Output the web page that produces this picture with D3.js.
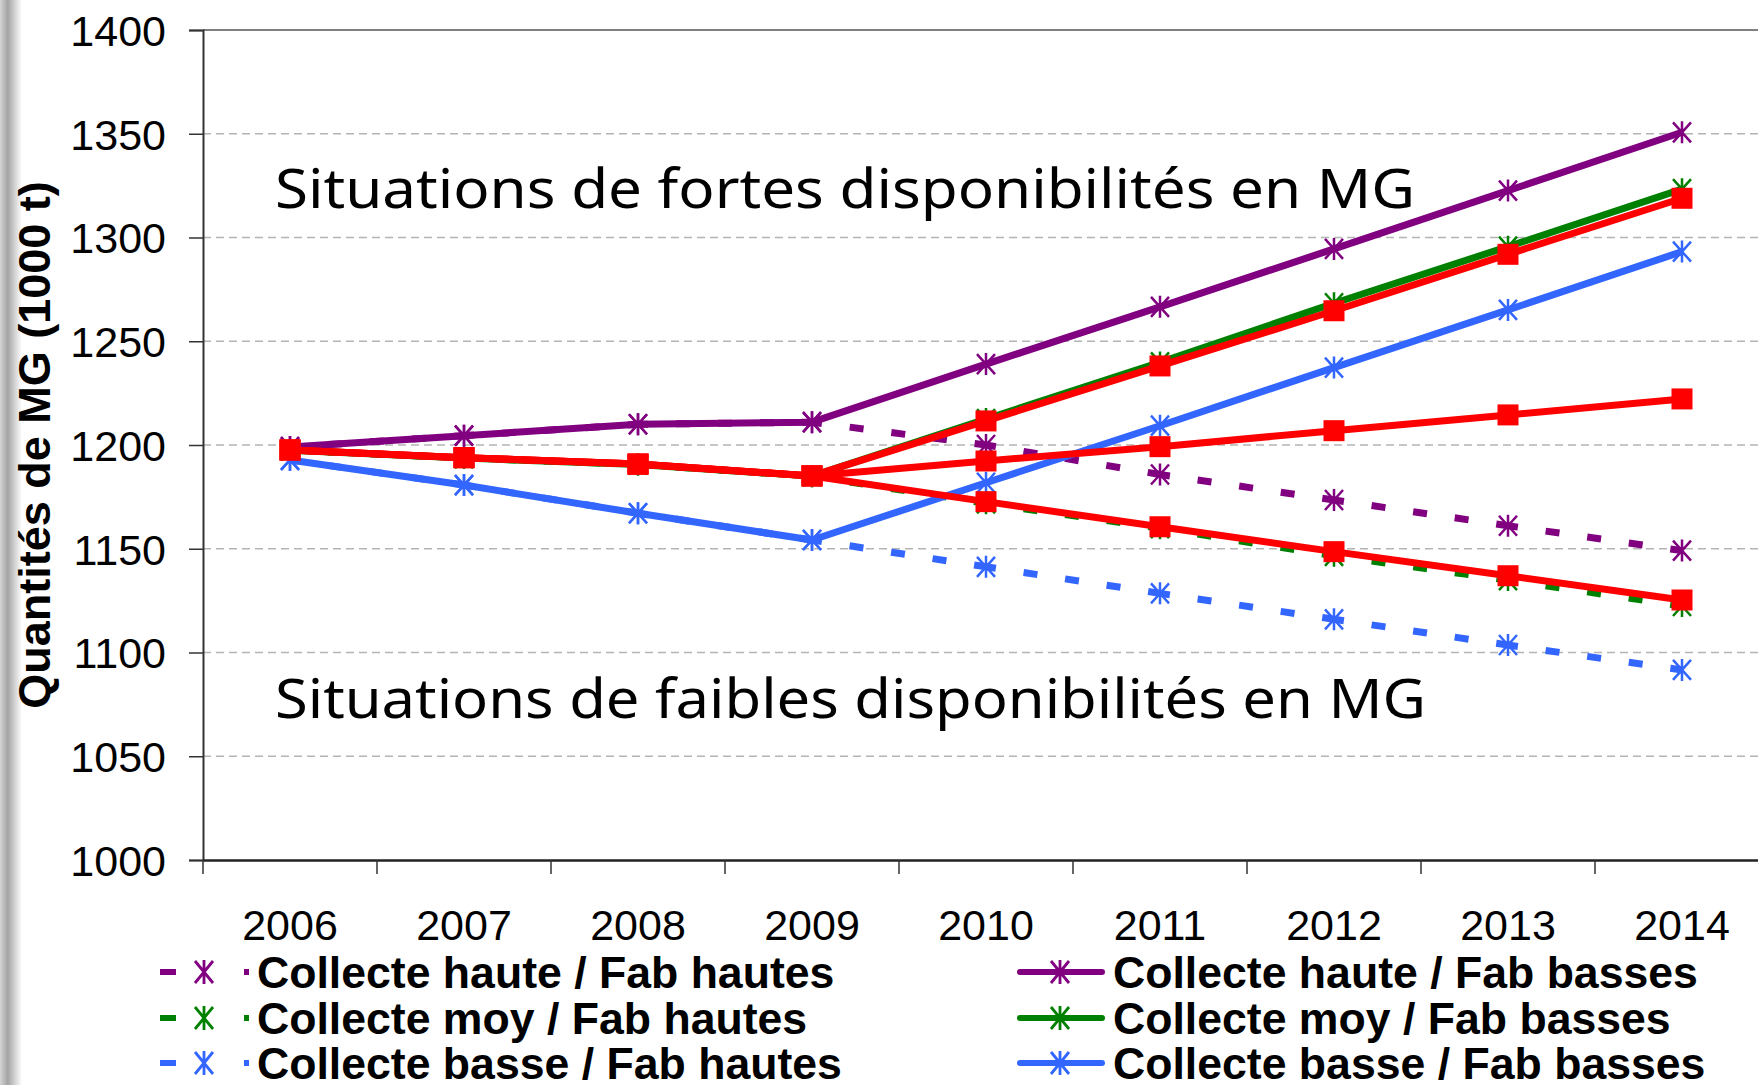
<!DOCTYPE html>
<html><head><meta charset="utf-8">
<script src="https://cdn.jsdelivr.net/npm/d3@7"></script>
<style>
html,body{margin:0;padding:0;background:#fff;overflow:hidden;}
svg{display:block;}
</style></head>
<body>
<script>
// ---- data ----
const years = [2006, 2007, 2008, 2009, 2010, 2011, 2012, 2013, 2014];
const yTicks = [1000, 1050, 1100, 1150, 1200, 1250, 1300, 1350, 1400];
const hauteHautes = [1199, 1204.5, 1210, 1211, 1200, 1185.8, 1173.5, 1161.1, 1149.1];
const moyHautes   = [1197.5, 1193.7, 1190.6, 1185, 1171.9, 1159.9, 1146.6, 1134.9, 1122.4];
const basseHautes = [1192.8, 1180.7, 1167.1, 1154.2, 1141.3, 1128.5, 1116, 1103.6, 1091.6];
const hauteBasses = [1199, 1204.5, 1210, 1211, 1239, 1266.6, 1294.5, 1322.6, 1350.7];
const moyBasses   = [1197.5, 1193.7, 1190.6, 1185, 1212.5, 1239.8, 1268.3, 1295.6, 1323.3];
const basseBasses = [1192.8, 1180.7, 1167.1, 1154.2, 1181.8, 1209.3, 1237.3, 1265.1, 1293.2];
const redHigh = [1197.6, 1193.9, 1190.8, 1185.1, 1211.6, 1238.1, 1264.7, 1291.9, 1318.9];
const redMid  = [1197.6, 1193.9, 1190.8, 1185.1, 1192.3, 1199.2, 1206.9, 1214.5, 1222.2];
const redLow  = [1197.6, 1193.9, 1190.8, 1185.1, 1172.7, 1160.6, 1148.6, 1137.0, 1125.3];
const legendLabels = ["Collecte haute / Fab hautes", "Collecte moy / Fab hautes", "Collecte basse / Fab hautes",
                      "Collecte haute / Fab basses", "Collecte moy / Fab basses", "Collecte basse / Fab basses"];
const yTitle = "Quantités de MG (1000 t)";
const noteHigh = "Situations de fortes disponibilités en MG";
const noteLow = "Situations de faibles disponibilités en MG";

const PURPLE = "#800080", GREEN = "#008000", BLUE = "#3366FF", RED = "#FF0000";

const series = [
  {label: legendLabels[0], values: hauteHautes, color: PURPLE, dashed: true},
  {label: legendLabels[1], values: moyHautes, color: GREEN, dashed: true},
  {label: legendLabels[2], values: basseHautes, color: BLUE, dashed: true},
  {label: legendLabels[3], values: hauteBasses, color: PURPLE, dashed: false},
  {label: legendLabels[4], values: moyBasses, color: GREEN, dashed: false},
  {label: legendLabels[5], values: basseBasses, color: BLUE, dashed: false}
];
const redSeries = [redHigh, redMid, redLow];

// ---- layout ----
const W = 1758, H = 1085;
const L = 203, T = 30, B = 860, R = 203 + 9 * 174;
const FONT = "'Liberation Sans', Arial, sans-serif";

const svg = d3.select("body").append("svg").attr("width", W).attr("height", H);

// left shadow
const defs = svg.append("defs");
const grad = defs.append("linearGradient").attr("id", "shade");
grad.append("stop").attr("offset", "0%").attr("stop-color", "#d4d4d4");
grad.append("stop").attr("offset", "35%").attr("stop-color", "#a4a4a4");
grad.append("stop").attr("offset", "60%").attr("stop-color", "#c8c8c8");
grad.append("stop").attr("offset", "100%").attr("stop-color", "#ffffff");
svg.append("rect").attr("x", 0).attr("y", 0).attr("width", 22).attr("height", H).attr("fill", "url(#shade)");

const x = d3.scaleBand().domain(years).range([L, R]).padding(0);
const cx = d => x(d) + x.bandwidth() / 2;
const y = d3.scaleLinear().domain([1000, 1400]).range([B, T]);

// grid
svg.append("g").selectAll("line").data(yTicks.filter(v => v > 1000 && v < 1400)).join("line")
  .attr("x1", L).attr("x2", W).attr("y1", d => y(d)).attr("y2", d => y(d))
  .attr("stroke", "#b4b4b4").attr("stroke-width", 1.5).attr("stroke-dasharray", "8,5");
// top border
svg.append("line").attr("x1", L).attr("x2", W).attr("y1", y(1400)).attr("y2", y(1400))
  .attr("stroke", "#808080").attr("stroke-width", 2);

// y axis
const yAxis = svg.append("g").attr("transform", `translate(${L},0)`)
  .call(d3.axisLeft(y).tickValues(yTicks).tickSize(14).tickPadding(23).tickFormat(d3.format("d")));
yAxis.select(".domain").attr("stroke", "#333").attr("stroke-width", 2);
yAxis.selectAll(".tick line").attr("stroke", "#333").attr("stroke-width", 1.5);
yAxis.selectAll("text").attr("font-family", FONT).attr("font-size", 43).attr("fill", "#000").attr("dy", "0.36em");

// x axis
const xAxis = svg.append("g").attr("transform", `translate(0,${B})`)
  .call(d3.axisBottom(x).tickSize(0).tickPadding(0));
xAxis.select(".domain").attr("stroke", "#222").attr("stroke-width", 2.5);
xAxis.selectAll("text").attr("font-family", FONT).attr("font-size", 43).attr("fill", "#000")
  .attr("y", 80).attr("dy", 0);
svg.append("g").selectAll("line").data(years.concat(["end"])).join("line")
  .attr("x1", d => d === "end" ? R : x(d)).attr("x2", d => d === "end" ? R : x(d))
  .attr("y1", B).attr("y2", B + 14).attr("stroke", "#333").attr("stroke-width", 1.5);

// y title
svg.append("text").attr("transform", `translate(50,${(T + B) / 2}) rotate(-90)`)
  .attr("text-anchor", "middle").attr("font-family", FONT).attr("font-weight", "bold")
  .attr("font-size", 45).text(yTitle);

// annotations
svg.append("text").attr("x", 275).attr("y", 208).attr("font-family", "'Comic Sans MS', 'Noto Sans', sans-serif")
  .attr("font-size", 54).attr("textLength", 1140).attr("lengthAdjust", "spacingAndGlyphs").text(noteHigh);
svg.append("text").attr("x", 275).attr("y", 718).attr("font-family", "'Comic Sans MS', 'Noto Sans', sans-serif")
  .attr("font-size", 54).attr("textLength", 1151).attr("lengthAdjust", "spacingAndGlyphs").text(noteLow);

// markers
const starPath = "M0,-11V11M-9,-10L9,10M-9,10L9,-10";
const line = d3.line().x(d => cx(d.year)).y(d => y(d.v));
const pts = vals => years.map((yr, i) => ({year: yr, v: vals[i]}));

const gLines = svg.append("g");
function drawSeries(s) {
  const p = pts(s.values);
  const g = gLines.append("g");
  if (s.dashed) {
    for (let i = 0; i < p.length - 1; i++) {
      g.append("path").attr("d", line([p[i], p[i + 1]])).attr("fill", "none")
        .attr("stroke", s.color).attr("stroke-width", 7)
        .attr("stroke-dasharray", "14,28").attr("stroke-dashoffset", 4);
    }
  } else {
    g.append("path").attr("d", line(p)).attr("fill", "none")
      .attr("stroke", s.color).attr("stroke-width", 7).attr("stroke-linejoin", "round");
  }
  g.selectAll(".m").data(p).join("path").attr("class", "m")
    .attr("transform", d => `translate(${cx(d.year)},${y(d.v)})`)
    .attr("d", starPath).attr("fill", "none").attr("stroke", s.color).attr("stroke-width", 2.5);
}
series.forEach(drawSeries);

redSeries.forEach(vals => {
  const p = pts(vals);
  const g = gLines.append("g");
  g.append("path").attr("d", line(p)).attr("fill", "none")
    .attr("stroke", RED).attr("stroke-width", 7).attr("stroke-linejoin", "round");
  g.selectAll("rect").data(p).join("rect")
    .attr("x", d => cx(d.year) - 10.5).attr("y", d => y(d.v) - 10.5)
    .attr("width", 21).attr("height", 21).attr("fill", RED);
});

// legend
const legRows = [988, 1034, 1079];
const leg = svg.append("g");
const legStar = "M0,-12V12M-9,-11L9,11M-9,11L9,-11";
series.forEach((s, i) => {
  const row = legRows[i % 3];
  const cy = row - 16;
  if (s.dashed) {
    leg.append("line").attr("x1", 160).attr("x2", 249).attr("y1", cy).attr("y2", cy)
      .attr("stroke", s.color).attr("stroke-width", 6).attr("stroke-dasharray", "16,68");
    leg.append("path").attr("transform", `translate(204,${cy})`).attr("d", legStar)
      .attr("fill", "none").attr("stroke", s.color).attr("stroke-width", 2.8);
    leg.append("text").attr("x", 257).attr("y", row).attr("font-family", FONT)
      .attr("font-weight", "bold").attr("font-size", 44.6).text(s.label);
  } else {
    leg.append("line").attr("x1", 1020).attr("x2", 1102).attr("y1", cy).attr("y2", cy)
      .attr("stroke", s.color).attr("stroke-width", 6).attr("stroke-linecap", "round");
    leg.append("path").attr("transform", `translate(1060,${cy})`).attr("d", legStar)
      .attr("fill", "none").attr("stroke", s.color).attr("stroke-width", 2.8);
    leg.append("text").attr("x", 1113).attr("y", row).attr("font-family", FONT)
      .attr("font-weight", "bold").attr("font-size", 44.6).text(s.label);
  }
});
</script>
</body></html>
